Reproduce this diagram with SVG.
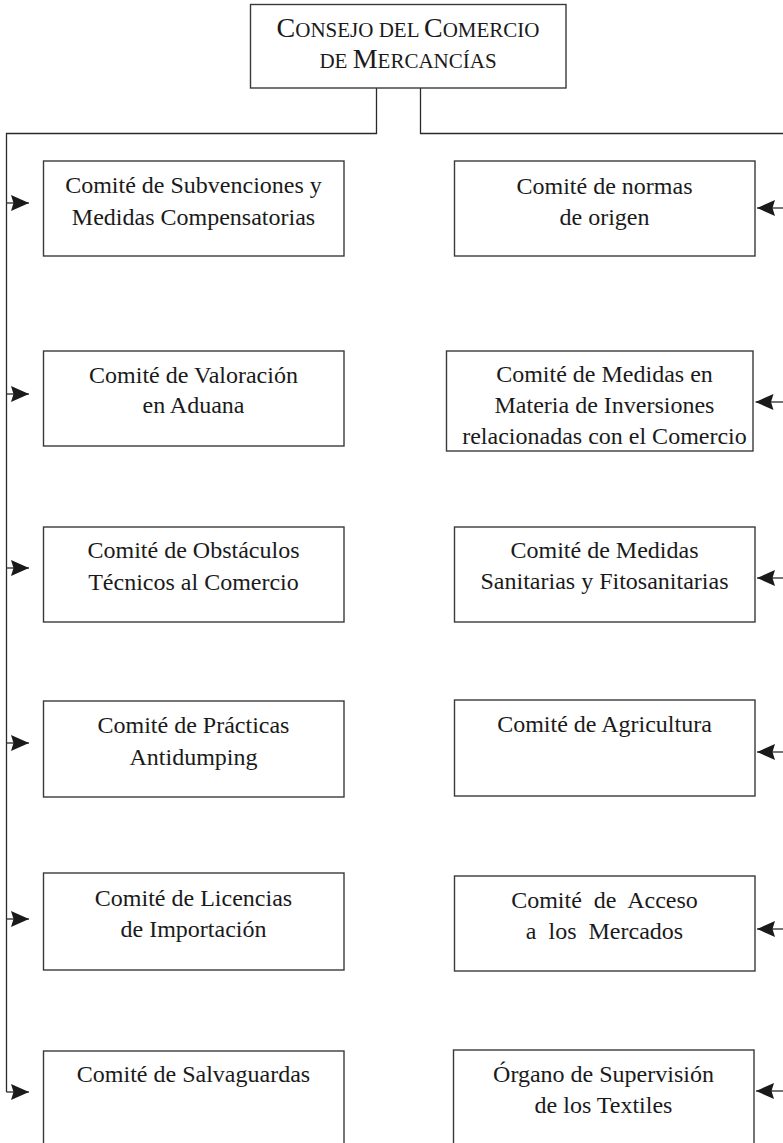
<svg xmlns="http://www.w3.org/2000/svg" width="783" height="1143" viewBox="0 0 783 1143">
<style>
.box{fill:#fff;stroke:#3a3a3a;stroke-width:1.4}
.t{font-family:"Liberation Serif","Times New Roman",serif;font-size:24px;fill:#1a1a1a;text-anchor:middle}
.ti{font-family:"Liberation Serif","Times New Roman",serif;font-size:28px;fill:#1a1a1a;text-anchor:middle}
.sc{font-size:21px}
.c{fill:none;stroke:#2a2a2a;stroke-width:1.3}
.a{fill:none;stroke:#2a2a2a;stroke-width:1.3;marker-end:url(#ah)}
</style>
<defs>
<marker id="ah" viewBox="0 0 18 16" refX="18" refY="8" markerWidth="18" markerHeight="16" markerUnits="userSpaceOnUse" orient="auto">
<path d="M0,0 L18,8 L0,16 L2.5,8 Z" fill="#1a1a1a"/>
</marker>
</defs>
<rect width="783" height="1143" fill="#fff"/>
<g id="connectors">
<path class="c" d="M376.5,88 V133.5 H6.5 V1092"/>
<path class="c" d="M420.5,88 V133.5 H783"/>
<path class="a" d="M6.5,203 H29"/>
<path class="a" d="M6.5,394 H29"/>
<path class="a" d="M6.5,568 H29"/>
<path class="a" d="M6.5,743 H29"/>
<path class="a" d="M6.5,919 H29"/>
<path class="a" d="M6.5,1092 H29"/>
<path class="a" d="M783,208 H757"/>
<path class="a" d="M783,402 H755.5"/>
<path class="a" d="M783,578 H757"/>
<path class="a" d="M783,752 H757"/>
<path class="a" d="M783,929 H757"/>
<path class="a" d="M783,1091 H756"/>
</g>
<g id="consejo">
<rect class="box" x="250.5" y="4.5" width="315.5" height="83.5"/>
<text class="ti" x="408" y="37">C<tspan class="sc">ONSEJO DEL </tspan>C<tspan class="sc">OMERCIO</tspan></text>
<text class="ti" x="408" y="68"><tspan class="sc">DE </tspan>M<tspan class="sc">ERCANCÍAS</tspan></text>
</g>
<g id="subvenciones">
<rect class="box" x="43.5" y="161" width="300.5" height="95"/>
<text class="t" x="193.5" y="193">Comité de Subvenciones y</text>
<text class="t" x="193.5" y="225">Medidas Compensatorias</text>
</g>
<g id="valoracion">
<rect class="box" x="43.5" y="351" width="300.5" height="95"/>
<text class="t" x="193.5" y="383">Comité de Valoración</text>
<text class="t" x="193.5" y="413">en Aduana</text>
</g>
<g id="obstaculos">
<rect class="box" x="43.5" y="527" width="300.5" height="95"/>
<text class="t" x="193.5" y="558">Comité de Obstáculos</text>
<text class="t" x="193.5" y="590">Técnicos al Comercio</text>
</g>
<g id="antidumping">
<rect class="box" x="43.5" y="701" width="300.5" height="96"/>
<text class="t" x="193.5" y="733">Comité de Prácticas</text>
<text class="t" x="193.5" y="765">Antidumping</text>
</g>
<g id="licencias">
<rect class="box" x="43.5" y="873" width="300.5" height="97"/>
<text class="t" x="193.5" y="906">Comité de Licencias</text>
<text class="t" x="193.5" y="937">de Importación</text>
</g>
<g id="salvaguardas">
<rect class="box" x="43.5" y="1051" width="300.5" height="110"/>
<text class="t" x="193.5" y="1082">Comité de Salvaguardas</text>
</g>
<g id="normas">
<rect class="box" x="454.5" y="161" width="300.5" height="95"/>
<text class="t" x="604.5" y="194">Comité de normas</text>
<text class="t" x="604.5" y="225">de origen</text>
</g>
<g id="inversiones">
<rect class="box" x="446.5" y="351" width="306.5" height="100"/>
<text class="t" x="604.5" y="382">Comité de Medidas en</text>
<text class="t" x="604.5" y="413">Materia de Inversiones</text>
<text class="t" x="604.5" y="444">relacionadas con el Comercio</text>
</g>
<g id="sanitarias">
<rect class="box" x="454.5" y="527" width="300.5" height="95"/>
<text class="t" x="604.5" y="558">Comité de Medidas</text>
<text class="t" x="604.5" y="589">Sanitarias y Fitosanitarias</text>
</g>
<g id="agricultura">
<rect class="box" x="454.5" y="700" width="300.5" height="96"/>
<text class="t" x="604.5" y="732">Comité de Agricultura</text>
</g>
<g id="acceso">
<rect class="box" x="454.5" y="876" width="300.5" height="95"/>
<text class="t" x="604.5" y="908" word-spacing="6">Comité de Acceso</text>
<text class="t" x="604.5" y="939" word-spacing="6">a los Mercados</text>
</g>
<g id="textiles">
<rect class="box" x="453.5" y="1050" width="300.5" height="110"/>
<text class="t" x="603.5" y="1082">Órgano de Supervisión</text>
<text class="t" x="603.5" y="1113">de los Textiles</text>
</g>
</svg>
